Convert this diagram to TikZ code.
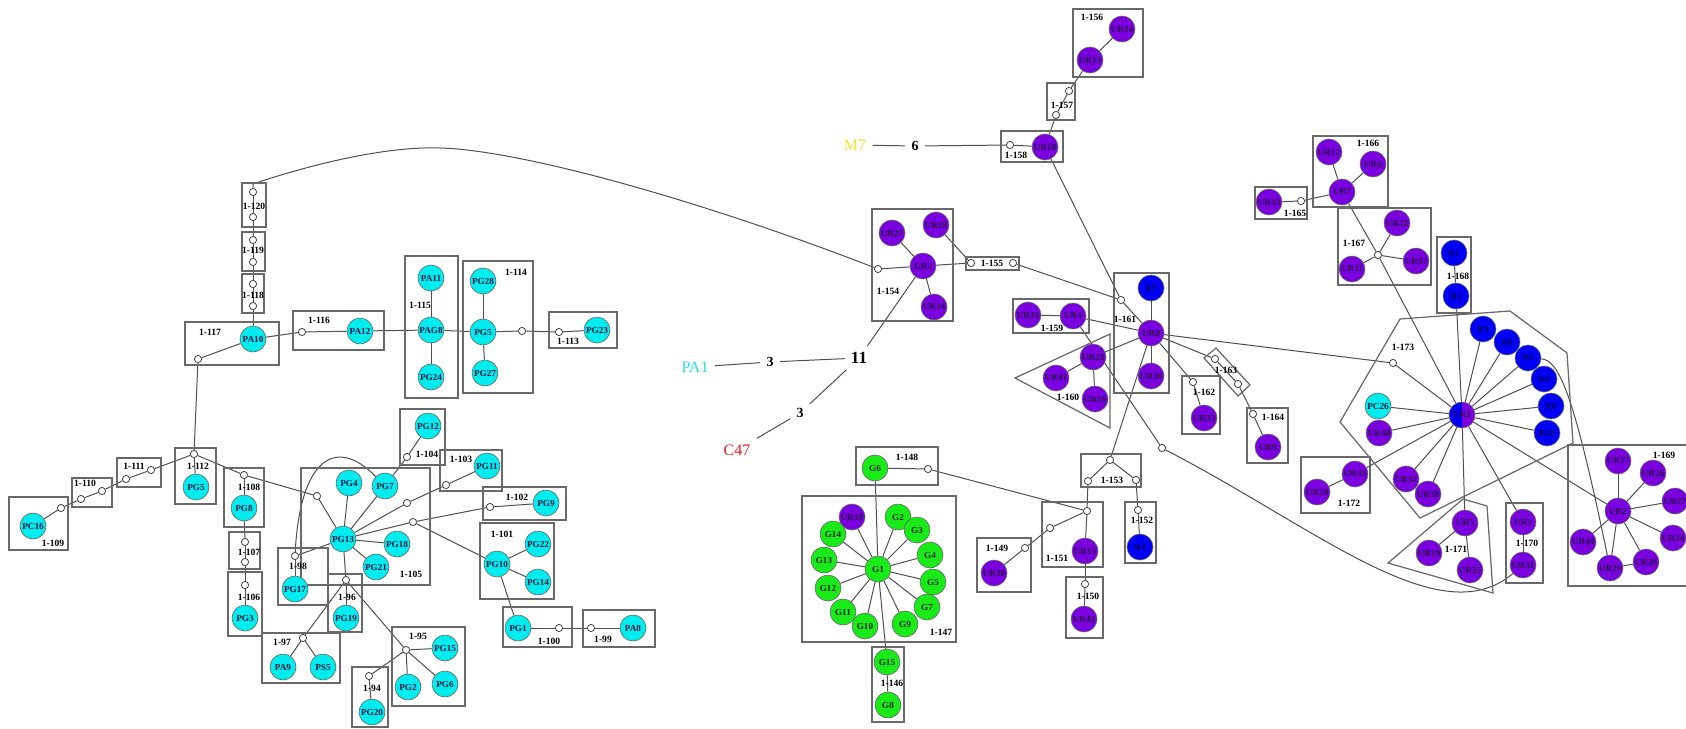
\documentclass[tikz,border=0pt]{standalone}
\usepackage{fontspec}
\setmainfont{Liberation Serif}
\usetikzlibrary{backgrounds}
\definecolor{cyanA}{RGB}{0,236,238}
\definecolor{purA}{RGB}{122,0,224}
\definecolor{bluA}{RGB}{0,0,245}
\definecolor{grnA}{RGB}{24,235,24}
\definecolor{lineA}{RGB}{80,80,80}
\definecolor{boxA}{RGB}{105,105,105}
\definecolor{yelA}{RGB}{240,228,40}
\definecolor{redA}{RGB}{228,30,30}
\definecolor{cyanT}{RGB}{40,222,232}
\definecolor{navyT}{RGB}{0,25,70}
\definecolor{purT}{RGB}{45,0,85}
\definecolor{bluT}{RGB}{0,0,95}
\begin{document}
\begin{tikzpicture}[x=0.5pt,y=-0.5pt,
  base/.style={circle,draw=black!60,line width=0.3pt,minimum size=13pt,inner sep=0pt,font=\bfseries\fontsize{4.6}{4.6}\selectfont},
  pc/.style={base,fill=cyanA,text=navyT},
  ur/.style={base,fill=purA,text=purT},
  rr/.style={base,fill=bluA,text=bluT},
  gg/.style={base,fill=grnA,text=black!85},
  dot/.style={circle,draw=black!75,fill=white,line width=0.4pt,minimum size=3.6pt,inner sep=0pt},
  grp/.style={draw=boxA,line width=0.62pt},
  glab/.style={font=\bfseries\fontsize{4.8}{4.8}\selectfont,inner sep=0.4pt},
  link/.style={draw=lineA,line width=0.5pt},
  tag/.style={inner sep=3pt,font=\fontsize{8}{8}\selectfont},
  num/.style={inner sep=3pt,font=\bfseries\fontsize{7}{7}\selectfont},
]
\useasboundingbox (0,0) rectangle (1686,728);
\begin{scope}[on background layer]
  \fill[white] (0,0) rectangle (1686,728);
\end{scope}
\clip (0,0) rectangle (1686,728);

% ---------- group frames ----------
\draw[grp] (242,183) rectangle (266,227);
\draw[grp] (242,232) rectangle (265,271);
\draw[grp] (242,274) rectangle (264,313);
\draw[grp] (185,322) rectangle (279,365);
\draw[grp] (293,311) rectangle (384,350);
\draw[grp] (405,256) rectangle (458,398);
\draw[grp] (463,261) rectangle (533,393);
\draw[grp] (549,312) rectangle (617,348);
\draw[grp] (175,448) rectangle (216,504);
\draw[grp] (117,458) rectangle (161,487);
\draw[grp] (72,478) rectangle (112,507);
\draw[grp] (9,497) rectangle (68,550);
\draw[grp] (224,468) rectangle (264,527);
\draw[grp] (229,532) rectangle (260,569);
\draw[grp] (228,572) rectangle (262,636);
\draw[grp] (301,468) rectangle (430,585);
\draw[grp] (400,409) rectangle (445,465);
\draw[grp] (440,450) rectangle (502,491);
\draw[grp] (483,487) rectangle (566,520);
\draw[grp] (480,523) rectangle (554,599);
\draw[grp] (503,607) rectangle (572,647);
\draw[grp] (583,610) rectangle (655,647);
\draw[grp] (278,548) rectangle (328,605);
\draw[grp] (328,574) rectangle (362,632);
\draw[grp] (262,633) rectangle (340,683);
\draw[grp] (392,627) rectangle (465,706);
\draw[grp] (352,667) rectangle (388,727);
% middle
\draw[grp] (1073,9) rectangle (1143,77);
\draw[grp] (1047,83) rectangle (1075,120);
\draw[grp] (1001,131) rectangle (1063,162);
\draw[grp] (872,209) rectangle (953,321);
\draw[grp] (966,257) rectangle (1019,270);
\draw[grp] (1013,299) rectangle (1089,333);
\draw[grp] (1015,378) -- (1110,334) -- (1110,428) -- cycle;
\draw[grp] (1114,273) rectangle (1169,393);
\draw[grp] (1182,376) rectangle (1220,434);
\draw[grp] (1204,358) -- (1216,348) -- (1250,385) -- (1238,396) -- cycle;
\draw[grp] (1247,408) rectangle (1288,463);
\draw[grp] (1081,454) rectangle (1141,487);
\draw[grp] (1125,502) rectangle (1156,563);
\draw[grp] (1042,502) rectangle (1103,567);
\draw[grp] (977,538) rectangle (1031,592);
\draw[grp] (1066,577) rectangle (1103,638);
\draw[grp] (856,447) rectangle (938,485);
\draw[grp] (802,496) rectangle (956,642);
\draw[grp] (872,647) rectangle (904,722);
% right
\draw[grp] (1255,187) rectangle (1307,219);
\draw[grp] (1313,136) rectangle (1388,207);
\draw[grp] (1338,208) rectangle (1431,285);
\draw[grp] (1437,237) rectangle (1471,313);
\draw[grp] (1400,319) -- (1510,311) -- (1567,353) -- (1573,443) -- (1420,518) -- (1340,422) -- cycle;
\draw[grp] (1301,457) rectangle (1370,513);
\draw[grp] (1388,563) -- (1463,499) -- (1487,506) -- (1493,593) -- cycle;
\draw[grp] (1506,503) rectangle (1543,583);
\draw[grp] (1568,445) rectangle (1700,586);

% ---------- group labels ----------
\node[glab] (t120) at (254,206) {1-120};
\node[glab] (t119) at (253,250) {1-119};
\node[glab] (t118) at (253,295) {1-118};
\node[glab] (t117) at (210,332) {1-117};
\node[glab] (t116) at (319,320) {1-116};
\node[glab] (t115) at (420,305) {1-115};
\node[glab] (t114) at (516,272) {1-114};
\node[glab] (t113) at (568,341) {1-113};
\node[glab] (t112) at (198,466) {1-112};
\node[glab] (t111) at (134,466) {1-111};
\node[glab] (t110) at (85,483) {1-110};
\node[glab] (t109) at (53,543) {1-109};
\node[glab] (t108) at (249,487) {1-108};
\node[glab] (t107) at (249,552) {1-107};
\node[glab] (t106) at (249,597) {1-106};
\node[glab] (t105) at (411,574) {1-105};
\node[glab] (t104) at (427,454) {1-104};
\node[glab] (t103) at (461,459) {1-103};
\node[glab] (t102) at (517,497) {1-102};
\node[glab] (t101) at (502,534) {1-101};
\node[glab] (t100) at (549,641) {1-100};
\node[glab] (t99) at (603,639) {1-99};
\node[glab] (t98) at (298,566) {1-98};
\node[glab] (t96) at (347,597) {1-96};
\node[glab] (t97) at (282,642) {1-97};
\node[glab] (t95) at (418,636) {1-95};
\node[glab] (t94) at (372,688) {1-94};
\node[glab] (t156) at (1092,17) {1-156};
\node[glab] (t157) at (1062,105) {1-157};
\node[glab] (t158) at (1016,155) {1-158};
\node[glab] (t154) at (888,291) {1-154};
\node[glab] (t155) at (992,263) {1-155};
\node[glab] (t159) at (1052,328) {1-159};
\node[glab] (t160) at (1068,397) {1-160};
\node[glab] (t161) at (1125,319) {1-161};
\node[glab] (t162) at (1204,392) {1-162};
\node[glab] (t163) at (1226,370) {1-163};
\node[glab] (t164) at (1273,417) {1-164};
\node[glab] (t153) at (1112,480) {1-153};
\node[glab] (t152) at (1142,520) {1-152};
\node[glab] (t151) at (1057,558) {1-151};
\node[glab] (t149) at (997,548) {1-149};
\node[glab] (t150) at (1088,596) {1-150};
\node[glab] (t148) at (907,457) {1-148};
\node[glab] (t147) at (941,632) {1-147};
\node[glab] (t146) at (892,683) {1-146};
\node[glab] (t165) at (1295,213) {1-165};
\node[glab] (t166) at (1368,143) {1-166};
\node[glab] (t167) at (1354,243) {1-167};
\node[glab] (t168) at (1458,276) {1-168};
\node[glab] (t173) at (1403,347) {1-173};
\node[glab] (t172) at (1349,503) {1-172};
\node[glab] (t171) at (1456,549) {1-171};
\node[glab] (t170) at (1527,543) {1-170};
\node[glab] (t169) at (1664,455) {1-169};

% ---------- left component ----------
\node[pc] (PC16) at (33,526) {PC16};
\node[dot] (d109) at (61,508) {};
\node[dot] (d110a) at (81,499) {};
\node[dot] (d110b) at (102,491) {};
\node[dot] (d111a) at (126,479) {};
\node[dot] (d111b) at (151,470) {};
\node[dot] (d112) at (194,454) {};
\node[pc] (PG5a) at (196,487) {PG5};
\node[dot] (d117) at (198,359) {};
\node[pc] (PA10) at (253,339) {PA10};
\node[dot] (d118a) at (253,306) {};
\node[dot] (d118b) at (253,284) {};
\node[dot] (d119a) at (253,262) {};
\node[dot] (d119b) at (253,240) {};
\node[dot] (d120a) at (253,217) {};
\node[dot] (d120b) at (253,192) {};
\node[dot] (d116) at (302,332) {};
\node[pc] (PA12) at (360,331) {PA12};
\node[pc] (PA11) at (431,278) {PA11};
\node[pc] (PAG8) at (431,330) {PAG8};
\node[pc] (PG24) at (431,377) {PG24};
\node[pc] (PG28) at (483,281) {PG28};
\node[pc] (PG5b) at (483,332) {PG5};
\node[pc] (PG27) at (485,373) {PG27};
\node[dot] (d114) at (522,331) {};
\node[dot] (d113) at (559,332) {};
\node[pc] (PG23) at (597,330) {PG23};
\node[dot] (d108) at (244,475) {};
\node[pc] (PG8) at (244,508) {PG8};
\node[dot] (d107a) at (245,542) {};
\node[dot] (d107b) at (245,562) {};
\node[dot] (d106) at (245,585) {};
\node[pc] (PG3) at (245,618) {PG3};
\node[dot] (d105) at (317,496) {};
\node[pc] (PG13) at (343,539) {PG13};
\node[pc] (PG4) at (349,483) {PG4};
\node[pc] (PG7) at (385,486) {PG7};
\node[pc] (PG18) at (397,544) {PG18};
\node[pc] (PG21) at (376,567) {PG21};
\node[dot] (d98) at (295,556) {};
\node[pc] (PG17) at (295,589) {PG17};
\node[dot] (d96) at (346,580) {};
\node[pc] (PG19) at (346,618) {PG19};
\node[dot] (d97) at (303,638) {};
\node[pc] (PA9) at (283,667) {PA9};
\node[pc] (PS5) at (323,667) {PS5};
\node[dot] (d95) at (406,650) {};
\node[pc] (PG15) at (445,648) {PG15};
\node[pc] (PG2) at (408,687) {PG2};
\node[pc] (PG6) at (445,684) {PG6};
\node[dot] (d94) at (369,676) {};
\node[pc] (PG20) at (372,712) {PG20};
\node[dot] (d104) at (407,457) {};
\node[pc] (PG12) at (428,426) {PG12};
\node[dot] (d105b) at (407,503) {};
\node[dot] (d103) at (446,485) {};
\node[pc] (PG11) at (487,466) {PG11};
\node[dot] (d105c) at (413,522) {};
\node[dot] (d102) at (490,507) {};
\node[pc] (PG9) at (546,503) {PG9};
\node[pc] (PG10) at (497,564) {PG10};
\node[pc] (PG22) at (538,544) {PG22};
\node[pc] (PG14) at (538,582) {PG14};
\node[pc] (PG1) at (518,628) {PG1};
\node[dot] (d100) at (559,628) {};
\node[dot] (d99) at (591,628) {};
\node[pc] (PA8) at (633,628) {PA8};

% ---------- free tags ----------
\node[tag,text=cyanT] (PA1) at (695,367) {PA1};
\node[num] (n3a) at (770,362) {3};
\node[num,font=\bfseries\fontsize{8.5}{8.5}\selectfont] (n11) at (859,358) {11};
\node[num] (n3b) at (800,413) {3};
\node[tag,text=redA] (C47) at (737,450) {C47};
\node[tag,text=yelA] (M7) at (855,145) {M7};
\node[num] (n6) at (915,146) {6};

% ---------- middle component ----------
\node[ur] (UR24) at (1122,29) {UR24};
\node[ur] (UR13) at (1090,60) {UR13};
\node[dot] (d157a) at (1069,91) {};
\node[dot] (d157b) at (1056,115) {};
\node[dot] (d158) at (1010,145) {};
\node[ur] (UR18) at (1045,147) {UR18};
\node[ur] (UR27) at (892,233) {UR27};
\node[ur] (UR28) at (936,225) {UR28};
\node[ur] (UR2) at (923,266) {UR2};
\node[ur] (UR14) at (934,307) {UR14};
\node[dot] (d154) at (878,269) {};
\node[dot] (d155a) at (971,263) {};
\node[dot] (d155b) at (1013,263) {};
\node[ur] (UR21) at (1028,315) {UR21};
\node[ur] (UR4) at (1073,316) {UR4};
\node[ur] (UR23) at (1093,357) {UR23};
\node[ur] (UR41) at (1056,378) {UR41};
\node[ur] (UR16) at (1095,399) {UR16};
\node[rr] (R7) at (1151,288) {R7};
\node[ur] (UR8) at (1151,333) {UR8};
\node[ur] (UR36) at (1151,376) {UR36};
\node[dot] (d161) at (1121,300) {};
\node[dot] (d162) at (1193,382) {};
\node[ur] (UR33) at (1204,418) {UR33};
\node[dot] (d163a) at (1215,359) {};
\node[dot] (d163b) at (1238,384) {};
\node[dot] (d164) at (1253,414) {};
\node[ur] (UR9) at (1268,447) {UR9};
\node[dot] (dfree) at (1162,448) {};
\node[dot] (d153t) at (1110,460) {};
\node[dot] (d153l) at (1088,481) {};
\node[dot] (d153r) at (1136,480) {};
\node[dot] (d152) at (1138,510) {};
\node[rr] (R4) at (1140,547) {R4};
\node[dot] (d151) at (1087,511) {};
\node[dot] (d151b) at (1050,528) {};
\node[ur] (UR15) at (1085,551) {UR15};
\node[dot] (d149) at (1025,548) {};
\node[ur] (UR30) at (994,573) {UR30};
\node[dot] (d150) at (1085,584) {};
\node[ur] (UR42) at (1084,619) {UR42};
\node[gg] (G6) at (875,468) {G6};
\node[dot] (d148) at (928,469) {};
\node[gg] (G1) at (878,569) {G1};
\node[ur] (UR10) at (852,517) {UR10};
\node[gg] (G2) at (898,517) {G2};
\node[gg] (G3) at (917,530) {G3};
\node[gg] (G4) at (930,555) {G4};
\node[gg] (G5) at (933,582) {G5};
\node[gg] (G7) at (927,607) {G7};
\node[gg] (G9) at (905,624) {G9};
\node[gg] (G10) at (865,626) {G10};
\node[gg] (G11) at (843,612) {G11};
\node[gg] (G12) at (828,588) {G12};
\node[gg] (G13) at (824,560) {G13};
\node[gg] (G14) at (833,534) {G14};
\node[gg] (G15) at (887,662) {G15};
\node[gg] (G8) at (888,705) {G8};

% ---------- right component ----------
\node[ur] (UR43) at (1269,202) {UR43};
\node[dot] (d165) at (1301,201) {};
\node[ur] (UR12) at (1329,152) {UR12};
\node[ur] (UR6) at (1373,164) {UR6};
\node[ur] (UR7) at (1342,192) {UR7};
\node[ur] (UR22) at (1397,223) {UR22};
\node[dot] (d167) at (1378,255) {};
\node[ur] (UR11) at (1352,269) {UR11};
\node[ur] (UR37) at (1416,261) {UR37};
\node[rr] (R1) at (1454,253) {R1};
\node[rr] (R2) at (1456,296) {R2};
\node[dot] (d173) at (1393,363) {};
\node[ur,path picture={\fill[bluA] (path picture bounding box.south west) rectangle (path picture bounding box.north);}] (UR1) at (1462,415) {UR1};
\node[pc] (PC26) at (1378,406) {PC26};
\node[ur] (UR40) at (1379,433) {UR40};
\node[ur] (UR32) at (1406,479) {UR32};
\node[ur] (UR38) at (1428,494) {UR38};
\node[rr] (R3) at (1483,329) {R3};
\node[rr] (R8) at (1507,342) {R8};
\node[rr] (R5) at (1528,358) {R5};
\node[rr] (R6) at (1544,379) {R6};
\node[rr] (R9) at (1551,406) {R9};
\node[rr] (R10) at (1547,433) {R10};
\node[ur] (UR20) at (1317,492) {UR20};
\node[ur] (UR45) at (1355,474) {UR45};
\node[ur] (UR5) at (1465,523) {UR5};
\node[ur] (UR19) at (1429,553) {UR19};
\node[ur] (UR25) at (1470,570) {UR25};
\node[ur] (UR3) at (1523,522) {UR3};
\node[ur] (UR31) at (1523,565) {UR31};
\node[ur] (UR2b) at (1618,511) {UR2};
\node[ur] (UR17) at (1618,461) {UR17};
\node[ur] (UR26) at (1653,473) {UR26};
\node[ur] (UR27b) at (1675,501) {UR27};
\node[ur] (UR34) at (1673,538) {UR34};
\node[ur] (UR39) at (1646,562) {UR39};
\node[ur] (UR29) at (1610,568) {UR29};
\node[ur] (UR44) at (1583,542) {UR44};

% ---------- connectors ----------
\begin{scope}[on background layer]
  \foreach \a/\b in {PC16/d109,d109/d110a,d110a/d110b,d110b/d111a,d111a/d111b,d111b/d112,
    d112/PG5a,d112/d117,d117/PA10,PA10/d118a,d118a/d118b,d118b/d119a,d119a/d119b,d119b/d120a,
    d120a/d120b,PA10/d116,d116/PA12,PA12/PAG8,PAG8/PA11,PAG8/PG24,PAG8/PG5b,PG5b/PG28,
    PG5b/PG27,PG5b/d114,d114/d113,d113/PG23,d112/d108,d108/PG8,PG8/d107a,d107a/d107b,
    d107b/d106,d106/PG3,d108/d105,d105/PG13,PG13/PG4,PG13/PG7,PG13/PG18,PG13/PG21,PG13/d98,
    d98/PG17,PG13/d96,d96/PG19,d96/d97,d97/PA9,d97/PS5,d96/d95,d95/PG15,d95/PG2,d95/PG6,
    d95/d94,d94/PG20,PG7/d104,d104/PG12,PG13/d105b,d105b/d103,d103/PG11,PG13/d105c,
    d105c/d102,d102/PG9,d105c/PG10,PG10/PG22,PG10/PG14,PG10/PG1,PG1/d100,d100/d99,d99/PA8,
    PA1/n3a,n3a/n11,n11/UR2,n11/n3b,n3b/C47,M7/n6,n6/d158,
    UR24/UR13,UR13/d157a,d157a/d157b,d157b/UR18,d158/UR18,UR18/d161,UR27/UR2,UR2/UR14,
    UR2/d154,UR2/d155a,UR28/d155a,d155b/d161,d161/UR8,R7/UR8,UR8/UR36,UR21/UR4,UR4/UR8,
    UR23/UR8,UR23/UR41,UR23/UR16,UR4/dfree,UR8/d162,d162/UR33,UR8/d163a,d163a/d163b,
    d163b/d164,d164/UR9,UR8/d153t,d153t/d153l,d153t/d153r,d153l/d151,d153r/d152,d152/R4,
    d151/UR15,UR15/d150,d150/UR42,d151/d151b,d151b/d149,d149/UR30,G6/d148,d148/d151,G6/G1,
    G1/UR10,G1/G2,G1/G3,G1/G4,G1/G5,G1/G7,G1/G9,G1/G10,G1/G11,G1/G12,G1/G13,G1/G14,G1/G15,
    G15/G8,UR8/d173,
    UR43/d165,d165/UR7,UR12/UR7,UR6/UR7,UR7/d167,d167/UR1,d167/UR22,d167/UR11,d167/UR37,
    R1/R2,R2/UR1,d173/UR1,UR1/PC26,UR1/UR40,UR1/UR45,UR45/UR20,UR1/UR32,UR1/UR38,UR1/UR5,
    UR5/UR19,UR5/UR25,UR1/UR3,UR3/UR31,UR1/R3,UR1/R8,UR1/R5,UR1/R6,UR1/R9,UR1/R10,UR1/UR2b,
    UR2b/UR17,UR2b/UR26,UR2b/UR27b,UR2b/UR34,UR2b/UR39,UR2b/UR29,UR2b/UR44,UR29/UR39}
    {\draw[link] (\a) -- (\b);}
  % long arcs
  \draw[link] (d120b) -- (253,184) .. controls (300,168) and (380,146) .. (440,148)
     .. controls (520,150) and (700,200) .. (d154);
  \draw[link] (d98) .. controls (300,460) and (335,435) .. (PG7);
  \draw[link] (dfree) .. controls (1320,530) and (1440,635) .. (UR31);
  \draw[link] (R5) .. controls (1560,360) and (1575,400) .. (UR29);
\end{scope}
\end{tikzpicture}
\end{document}
